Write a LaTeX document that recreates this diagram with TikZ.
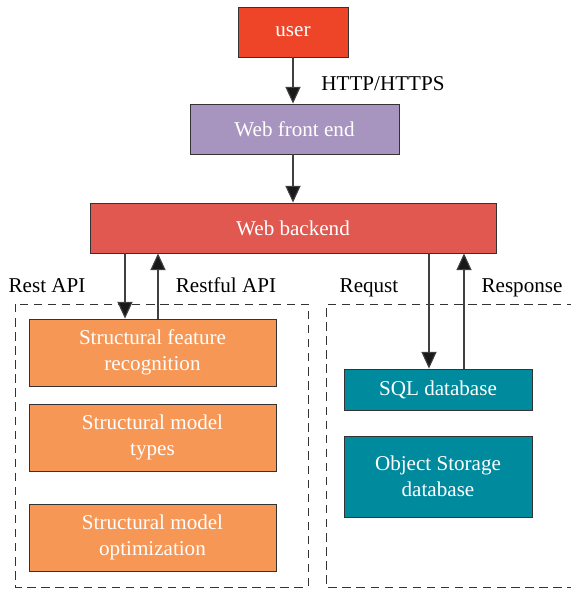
\documentclass[tikz,border=0pt]{standalone}
\usepackage{fontspec}
\setmainfont{Liberation Serif}
\usepackage{xcolor}
\usetikzlibrary{positioning,arrows.meta,calc}

\definecolor{userred}{HTML}{EE4427}
\definecolor{frontpurple}{HTML}{A895BF}
\definecolor{backred}{HTML}{E0584F}
\definecolor{modorange}{HTML}{F79756}
\definecolor{dbteal}{HTML}{008A9E}

\begin{document}
\begin{tikzpicture}[x=0.025cm,y=-0.025cm,
  font=\fontsize{15}{18.5}\selectfont,
  box/.style={draw=black!80,line width=0.6pt,text=white,align=center,inner sep=0pt},
  arr/.style={draw=black!75,line width=0.8pt,-{Triangle[length=0.42cm,width=0.38cm,fill=black!90]}},
  region/.style={draw=black!80,line width=0.6pt,dash pattern=on 6pt off 4pt},
  tag/.style={anchor=base}]
\useasboundingbox (0,0) rectangle (571,591);
% top of the stack
\node[box,fill=userred,minimum width=2.75cm,minimum height=1.25cm] (user) at (293,32) {user};
\node[box,fill=frontpurple,minimum width=5.225cm,minimum height=1.25cm] (front) at (294.5,129) {Web front end};
\node[box,fill=backred,minimum width=10.15cm,minimum height=1.25cm] (back) at (293,228) {Web backend};
% structural modules
\node[box,fill=modorange,minimum width=6.175cm,minimum height=1.675cm] (feat) at (152.5,352.5) {Structural feature\\recognition};
\node[box,fill=modorange,minimum width=6.175cm,minimum height=1.675cm] (types) at (152.5,437.5) {Structural model\\types};
\node[box,fill=modorange,minimum width=6.175cm,minimum height=1.675cm] (optim) at (152.5,537.5) {Structural model\\optimization};
% storage
\node[box,fill=dbteal,minimum width=4.7cm,minimum height=1.025cm] (sql) at (438,389.5) {SQL database};
\node[box,fill=dbteal,minimum width=4.7cm,minimum height=2.025cm] (obj) at (438,476.5) {Object Storage\\database};
% dashed groups
\draw[region] (15,304) rectangle (308,587);
\draw[region] (575,304) -- (326,304) -- (326,587) -- (575,587);
% connectors
\draw[arr] (user) -- (user |- front.north);
\draw[arr] (front.south -| user) -- (back);
\draw[arr] ([xshift=-0.6875cm]feat.north |- back.south) -- ([xshift=-0.6875cm]feat.north);
\draw[arr] ([xshift=0.1375cm]feat.north) -- ([xshift=0.1375cm]feat.north |- back.south);
\draw[arr] ([xshift=-0.225cm]sql.north |- back.south) -- ([xshift=-0.225cm]sql.north);
\draw[arr] ([xshift=0.65cm]sql.north) -- ([xshift=0.65cm]sql.north |- back.south);
% interface labels
\node[tag] (http) at (383,90) {HTTP/HTTPS};
\node[tag] (rest) at (47,292) {Rest API};
\node[tag] (restful) at (226,292) {Restful API};
\node[tag] (req) at (369,292) {Requst};
\node[tag] (resp) at (522,292) {Response};
\end{tikzpicture}
\end{document}
